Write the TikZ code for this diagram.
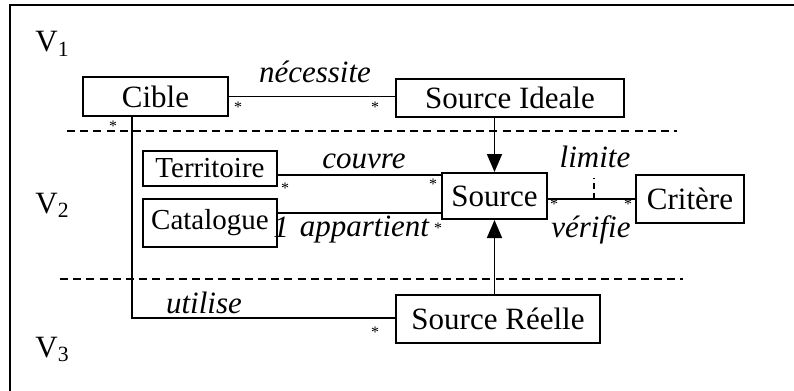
\documentclass[tikz,border=0pt]{standalone}
\usepackage{fontspec}
\setmainfont{Liberation Serif}
\usetikzlibrary{arrows.meta}
\begin{document}
\begin{tikzpicture}[x=0.5pt,y=-0.5pt,
  box/.style={draw,line width=1pt,inner sep=0pt,font=\fontsize{15.5}{18}\selectfont},
  smallbox/.style={box,font=\fontsize{14.5}{17}\selectfont},
  role/.style={font=\fontsize{15.5}{18}\selectfont\itshape,inner sep=0pt,anchor=base},
  mult/.style={font=\fontsize{8}{8}\selectfont,inner sep=0pt},
  link/.style={line width=0.9pt},
  level/.style={line width=0.8pt,dash pattern=on 4pt off 2.6pt}]
\useasboundingbox (0,0) rectangle (794,391);
\draw[line width=1.3pt] (10,391) -- (10,5) -- (794,5);

\node[role,anchor=base west,font=\fontsize{15.5}{18}\selectfont] (v1) at (35,52) {V\textsubscript{1}};
\node[role,anchor=base west,font=\fontsize{15.5}{18}\selectfont] (v2) at (35,213) {V\textsubscript{2}};
\node[role,anchor=base west,font=\fontsize{15.5}{18}\selectfont] (v3) at (35,357) {V\textsubscript{3}};

\draw[level] (67,131) -- (677,131);
\draw[level] (60,279) -- (683,279);

\node[box,minimum width=72.5pt,minimum height=19.5pt] (cible) at (155.5,96.5) {Cible};
\node[box,minimum width=114pt,minimum height=19pt] (si) at (510,98) {Source Ideale};
\node[smallbox,minimum width=67pt,minimum height=17.5pt] (terr) at (210,168.5) {Territoire};
\node[smallbox,minimum width=67pt,minimum height=24pt] (cat) at (210,223) {Catalogue};
\node[box,minimum width=52.5pt,minimum height=23pt] (src) at (494.5,196) {Source};
\node[box,minimum width=54pt,minimum height=24pt] (crit) at (690,199) {Critère};
\node[box,minimum width=102pt,minimum height=24pt] (sr) at (498,319) {Source Réelle};
\coordinate (bend) at (132,318);

\draw[link] (cible.east) -- (cible.east -| si.west);
\draw[link] (cible.south -| bend) -- (bend) -- (bend -| sr.west);
\draw[link] ([yshift=-3.25pt]terr.east) -- ([yshift=-3.25pt]terr.east -| src.west);
\draw[link] ([yshift=5pt]cat.east) -- ([yshift=5pt]cat.east -| src.west);
\draw[link] (crit.west -| src.east) -- (crit.west);
\draw[line width=0.8pt,dash pattern=on 3pt off 2pt] (594,199) -- (594,178);
\draw[link,-{Triangle[width=7.5pt,length=9pt]}] (si.south -| src.north) -- (src.north);
\draw[link,-{Triangle[width=7.5pt,length=9pt]}] (sr.north -| src.south) -- (src.south);

\node[role] (necessite) at (315,83) {nécessite};
\node[role] (couvre) at (364,168) {couvre};
\node[role] (un) at (281,237) {1};
\node[role] (appartient) at (364.5,236) {appartient};
\node[role] (limite) at (595,167) {limite};
\node[role] (verifie) at (591,237) {vérifie};
\node[role] (utilise) at (204,313) {utilise};

\foreach \x/\y in {238/107,375/107,113/126,285/188,433/184,438/228,554/204,628/204,375/332}
  \node[mult] at (\x,\y) {*};
\end{tikzpicture}
\end{document}
